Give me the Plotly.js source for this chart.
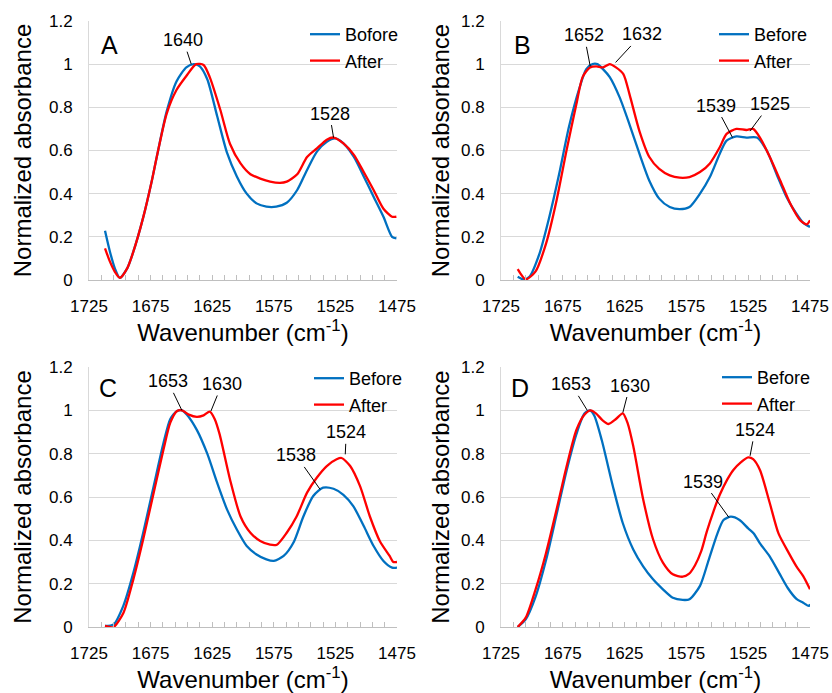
<!DOCTYPE html>
<html>
<head>
<meta charset="utf-8">
<script src="https://cdn.plot.ly/plotly-3.0.1.min.js"></script>
<style>html,body{margin:0;padding:0;background:#fff;}#chart{width:832px;height:693px;}</style>
</head>
<body>
<div id="chart"></div>
<script>
// ---------- DATA ----------
const panelLetters = ['A', 'B', 'C', 'D'];
const beforeNames = ['Bofore', 'Before', 'Before', 'Before'];
const afterName = 'After';

// Panel A
const wnA_before = [1712, 1708, 1704, 1700, 1694, 1689, 1681, 1674, 1670, 1662, 1654, 1646, 1640, 1635, 1629, 1621, 1613, 1605, 1597, 1589, 1581, 1573, 1564.5, 1556, 1548, 1540, 1532, 1525, 1518.5, 1510, 1502, 1494, 1486, 1479, 1475.5];
const absA_before = [0.228, 0.131, 0.054, 0.01, 0.054, 0.131, 0.29, 0.46, 0.57, 0.78, 0.92, 0.985, 1.0, 0.99, 0.93, 0.76, 0.59, 0.48, 0.40, 0.355, 0.34, 0.34, 0.358, 0.417, 0.51, 0.595, 0.64, 0.656, 0.633, 0.57, 0.48, 0.386, 0.293, 0.20, 0.193];
const wnA_after = [1712, 1708, 1704, 1700, 1694, 1689, 1681, 1674, 1670, 1662, 1654, 1646, 1638, 1632, 1627, 1618.5, 1610.5, 1602, 1594, 1586, 1578, 1570, 1564.5, 1556, 1548, 1540, 1532, 1526.5, 1518.5, 1510, 1502, 1494, 1486, 1479, 1475.5];
const absA_after = [0.147, 0.085, 0.038, 0.01, 0.054, 0.131, 0.29, 0.46, 0.57, 0.77, 0.88, 0.945, 1.0, 0.996, 0.94, 0.79, 0.63, 0.54, 0.49, 0.47, 0.456, 0.45, 0.456, 0.49, 0.57, 0.61, 0.65, 0.66, 0.633, 0.58, 0.50, 0.417, 0.33, 0.293, 0.293];

// Panel B
const wnB_before = [1711.5, 1707, 1702, 1694, 1686, 1678, 1670, 1661.5, 1656, 1651, 1647, 1642.5, 1637, 1629, 1621, 1613, 1605, 1597, 1588.5, 1580.5, 1572.5, 1564, 1556, 1548, 1542.5, 1534.5, 1526.5, 1518, 1510, 1502, 1494, 1486, 1480.5, 1475];
const absB_before = [0.015, 0.003, 0.015, 0.12, 0.29, 0.49, 0.71, 0.89, 0.977, 1.0, 1.0, 0.977, 0.94, 0.846, 0.72, 0.585, 0.46, 0.377, 0.338, 0.328, 0.338, 0.40, 0.477, 0.585, 0.646, 0.665, 0.66, 0.66, 0.60, 0.49, 0.385, 0.307, 0.265, 0.246];
const wnB_after = [1711.5, 1705, 1697, 1688.5, 1680, 1672, 1664, 1659, 1653, 1648, 1642.5, 1637, 1632, 1626, 1621, 1613, 1605, 1597, 1588.5, 1580.5, 1572.5, 1564, 1556, 1548, 1542.5, 1534.5, 1526.5, 1521, 1515.5, 1507.5, 1499, 1491, 1483, 1477.5, 1475];
const absB_after = [0.05, 0.003, 0.04, 0.17, 0.37, 0.60, 0.815, 0.94, 0.985, 0.99, 0.985, 1.0, 0.985, 0.954, 0.86, 0.69, 0.57, 0.515, 0.485, 0.474, 0.477, 0.50, 0.54, 0.615, 0.677, 0.70, 0.695, 0.70, 0.66, 0.57, 0.46, 0.354, 0.277, 0.258, 0.277];

// Panel C
const wnC_before = [1712, 1705, 1697, 1689, 1681, 1672.5, 1664.5, 1659, 1653.5, 1649.5, 1645.5, 1637.5, 1629, 1621, 1613, 1605, 1597, 1589, 1581, 1575, 1567, 1559, 1551, 1543, 1535, 1526.5, 1518.5, 1510.5, 1502, 1494, 1486, 1479, 1475];
const absC_before = [0.005, 0.012, 0.10, 0.25, 0.435, 0.65, 0.85, 0.96, 0.997, 1.0, 0.98, 0.91, 0.80, 0.666, 0.543, 0.45, 0.374, 0.335, 0.312, 0.305, 0.328, 0.39, 0.51, 0.605, 0.643, 0.638, 0.61, 0.558, 0.466, 0.374, 0.305, 0.274, 0.274];
const wnC_after = [1712, 1705, 1697, 1689, 1681, 1672.5, 1664.5, 1659, 1653.5, 1649.5, 1644, 1637.5, 1632, 1627, 1623, 1619, 1610.5, 1602, 1594, 1586, 1578, 1572.5, 1564.5, 1556.5, 1548, 1540, 1532, 1524, 1520, 1513, 1505, 1497, 1489, 1481, 1478, 1475];
const absC_after = [0.005, 0.0, 0.066, 0.22, 0.405, 0.62, 0.82, 0.943, 0.997, 1.0, 0.98, 0.97, 0.977, 0.994, 0.96, 0.89, 0.68, 0.51, 0.435, 0.397, 0.38, 0.38, 0.435, 0.51, 0.62, 0.69, 0.743, 0.774, 0.78, 0.743, 0.65, 0.51, 0.397, 0.328, 0.30, 0.30];

// Panel D
const wnD_before = [1711.5, 1705, 1697, 1688.5, 1680, 1672, 1664, 1657.5, 1653, 1649.5, 1643.5, 1634.5, 1626.5, 1618, 1610, 1602, 1594, 1586, 1578, 1572.5, 1564, 1557, 1550, 1545, 1539, 1532, 1525, 1520.5, 1515.5, 1507.5, 1500, 1493, 1486, 1480.5, 1476, 1475];
const absD_before = [0.0, 0.035, 0.14, 0.31, 0.52, 0.72, 0.89, 0.985, 1.0, 0.975, 0.863, 0.65, 0.48, 0.358, 0.28, 0.22, 0.174, 0.135, 0.125, 0.128, 0.19, 0.309, 0.43, 0.494, 0.509, 0.494, 0.455, 0.432, 0.386, 0.325, 0.25, 0.18, 0.13, 0.112, 0.097, 0.105];
const wnD_after = [1711.5, 1705, 1697, 1688.5, 1680, 1672, 1664, 1657.5, 1652.5, 1648, 1643, 1638, 1632, 1626.5, 1622.5, 1618, 1610, 1602, 1594, 1586, 1578, 1573, 1568, 1563, 1558.5, 1553, 1548, 1542, 1537, 1531, 1525, 1521, 1515.5, 1507.5, 1500.5, 1492, 1486, 1480.5, 1475];
const absD_after = [0.0, 0.043, 0.174, 0.343, 0.543, 0.74, 0.91, 0.98, 1.0, 0.985, 0.955, 0.937, 0.96, 0.986, 0.94, 0.835, 0.59, 0.405, 0.297, 0.243, 0.232, 0.245, 0.285, 0.35, 0.44, 0.535, 0.61, 0.68, 0.725, 0.76, 0.783, 0.775, 0.725, 0.571, 0.432, 0.34, 0.28, 0.235, 0.174];

// Peak labels (text, wavenumber the leader points to, absorbance there)
const peakLabelsA = ['1640', '1528'];
const peakWnA = [1642, 1526.5];
const peakAbsA = [1.0, 0.66];
const peakLabelsB = ['1652', '1632', '1539', '1525'];
const peakWnB = [1652.8, 1632.3, 1537.7, 1523.6];
const peakAbsB = [0.99, 1.008, 0.66, 0.69];
const peakLabelsC = ['1653', '1630', '1538', '1524'];
const peakWnC = [1649.6, 1626, 1537.4, 1517];
const peakAbsC = [1.0, 0.997, 0.635, 0.797];
const peakLabelsD = ['1653', '1630', '1539', '1524'];
const peakWnD = [1655.2, 1626.4, 1540.5, 1523.5];
const peakAbsD = [1.0, 0.99, 0.505, 0.79];

const xTickVals = [1725, 1675, 1625, 1575, 1525, 1475];
const yTickVals = [0, 0.2, 0.4, 0.6, 0.8, 1, 1.2];

// ---------- STYLE / LAYOUT ----------
const FONT = 'Liberation Sans, Arial, sans-serif';
const BLUE = '#0070C0';
const RED = '#FF0000';
const W = 832, H = 693;

const series = [
  [wnA_before, absA_before, wnA_after, absA_after],
  [wnB_before, absB_before, wnB_after, absB_after],
  [wnC_before, absC_before, wnC_after, absC_after],
  [wnD_before, absD_before, wnD_after, absD_after]
];
const peaks = [
  [peakLabelsA, peakWnA, peakAbsA],
  [peakLabelsB, peakWnB, peakAbsB],
  [peakLabelsC, peakWnC, peakAbsC],
  [peakLabelsD, peakWnD, peakAbsD]
];
// pixel offsets of label text from the pointed position
const peakOffsets = [
  [[-8, -24], [-4, -24]],
  [[-6, -31], [26, -28], [-17, -32], [20, -27]],
  [[-14, -29], [11, -27], [-24, -34], [1, -22]],
  [[-16, -26], [7, -27], [-26, -36], [5, -26]]
];

// plot areas in pixels: [left, right, top, bottom]
const boxes = [
  [89, 397, 21, 280],
  [501, 810, 21, 280],
  [89, 397, 367, 627],
  [501, 810, 367, 627]
];
const legendPos = [[305, 16], [714, 16], [309, 360], [717, 359]];
const letterPos = [[0.065, 0.907], [0.068, 0.907], [0.062, 0.919], [0.061, 0.919]];
const yTitleStandoff = [10, 4, 10, 4];

const data = [];
const layout = {
  width: W, height: H,
  margin: {l: 0, r: 0, t: 0, b: 0},
  paper_bgcolor: '#fff', plot_bgcolor: '#fff',
  font: {family: FONT, size: 17, color: '#000'},
  showlegend: true,
  annotations: []
};

for (let i = 0; i < 4; i++) {
  const s = i === 0 ? '' : String(i + 1);
  const xa = 'x' + s, ya = 'y' + s;
  const lg = 'legend' + s;
  const [wb, ab, wa, aa] = series[i];
  data.push({x: wb, y: ab, xaxis: xa, yaxis: ya, type: 'scatter', mode: 'lines',
    name: beforeNames[i], legend: lg, line: {color: BLUE, width: 2.3, shape: 'spline', smoothing: 0.7}});
  data.push({x: wa, y: aa, xaxis: xa, yaxis: ya, type: 'scatter', mode: 'lines',
    name: afterName, legend: lg, line: {color: RED, width: 2.3, shape: 'spline', smoothing: 0.7}});

  const [l, r, t, b] = boxes[i];
  layout['xaxis' + s] = {
    domain: [l / W, r / W], anchor: ya,
    range: [1725, 1475], tickvals: xTickVals, ticktext: xTickVals.map(String),
    showgrid: false, zeroline: false, showline: true, linecolor: '#bfbfbf', linewidth: 1,
    ticks: 'inside', ticklen: 5, tickcolor: '#bfbfbf', tickwidth: 1,
    minor: {dtick: 10, tick0: 1725, ticks: 'inside', ticklen: 5, tickcolor: '#bfbfbf', tickwidth: 1, showgrid: false},
    tickfont: {family: FONT, size: 17, color: '#000'},
    ticklabelstandoff: 11,
    title: {text: 'Wavenumber (cm<sup>-1</sup>)', font: {family: FONT, size: 24, color: '#000'}, standoff: 4},
    fixedrange: true
  };
  layout['yaxis' + s] = {
    domain: [1 - b / H, 1 - t / H], anchor: xa,
    range: [0, 1.2], tickvals: yTickVals, ticktext: ['0', '0.2', '0.4', '0.6', '0.8', '1', '1.2'],
    showgrid: true, gridcolor: '#d9d9d9', gridwidth: 1, zeroline: false,
    showline: true, linecolor: '#d9d9d9', linewidth: 1, ticks: '',
    tickfont: {family: FONT, size: 17, color: '#000'},
    ticklabelstandoff: 12,
    title: {text: 'Normalized absorbance', font: {family: FONT, size: 24, color: '#000'}, standoff: yTitleStandoff[i]},
    fixedrange: true
  };
  layout[lg] = {
    x: legendPos[i][0] / W, y: 1 - legendPos[i][1] / H, xanchor: 'left', yanchor: 'top',
    bgcolor: 'rgba(0,0,0,0)', borderwidth: 0,
    font: {family: FONT, size: 18, color: '#000'},
    itemwidth: 30, tracegroupgap: 0
  };

  layout.annotations.push({
    xref: xa + ' domain', yref: ya + ' domain', x: letterPos[i][0], y: letterPos[i][1],
    text: panelLetters[i], showarrow: false, xanchor: 'center', yanchor: 'middle',
    font: {family: FONT, size: 25, color: '#000'}
  });

  const [labs, pw, pa] = peaks[i];
  for (let k = 0; k < labs.length; k++) {
    layout.annotations.push({
      xref: xa, yref: ya, x: pw[k], y: pa[k], text: labs[k],
      showarrow: true, arrowhead: 0, arrowwidth: 1, arrowcolor: '#000',
      ax: peakOffsets[i][k][0], ay: peakOffsets[i][k][1], axref: 'pixel', ayref: 'pixel',
      font: {family: FONT, size: 18, color: '#000'}, standoff: 0
    });
  }
}

Plotly.newPlot('chart', data, layout, {displayModeBar: false, staticPlot: true});
</script>
</body>
</html>
